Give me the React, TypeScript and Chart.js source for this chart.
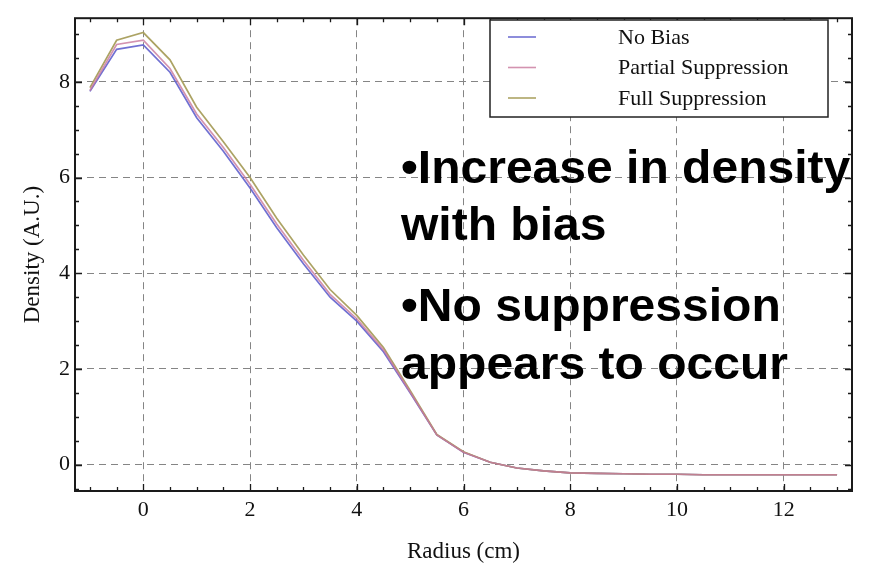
import React, { useEffect, useRef } from "react";
import { Chart, registerables } from "chart.js";

Chart.register(...registerables);

const radius = [-1, -0.5, 0, 0.5, 1, 1.5, 2, 2.5, 3, 3.5, 4, 4.5, 5, 5.5, 6, 6.5, 7, 7.5, 8, 8.5, 9, 9.5, 10, 10.5, 11, 11.5, 12, 12.5, 13];
const noBias = [7.8, 8.68, 8.77, 8.2, 7.25, 6.55, 5.78, 4.95, 4.2, 3.5, 3.0, 2.36, 1.5, 0.62, 0.26, 0.05, -0.07, -0.13, -0.17, -0.18, -0.19, -0.2, -0.2, -0.21, -0.21, -0.21, -0.21, -0.21, -0.21];
const partial = [7.82, 8.78, 8.87, 8.28, 7.33, 6.63, 5.86, 5.03, 4.27, 3.56, 3.05, 2.4, 1.52, 0.62, 0.26, 0.05, -0.07, -0.13, -0.17, -0.18, -0.19, -0.2, -0.2, -0.21, -0.21, -0.21, -0.21, -0.21, -0.21];
const full = [7.88, 8.87, 9.03, 8.46, 7.47, 6.75, 6.0, 5.15, 4.38, 3.66, 3.12, 2.45, 1.55, 0.63, 0.27, 0.05, -0.07, -0.13, -0.17, -0.18, -0.19, -0.2, -0.2, -0.21, -0.21, -0.21, -0.21, -0.21, -0.21];
const seriesNames = ["No Bias", "Partial Suppression", "Full Suppression"];
const seriesColors = ["rgba(104,104,208,0.95)", "rgba(200,120,156,0.8)", "rgba(168,158,92,0.95)"];
const seriesOrder = [2, 0, 1];
const xTitle = "Radius (cm)";
const yTitle = "Density (A.U.)";
const notes = ["\u2022Increase in density", "with bias", "\u2022No suppression", "appears to occur"];

const SERIF = "'Liberation Serif', 'Times New Roman', serif";
const isMajor = (v: number) => Math.abs(v % 2) < 1e-6;

const framePlugin = {
  id: "frame",
  afterDatasetsDraw(chart: any) {
    const { ctx, chartArea: a, scales } = chart;
    const xs = scales.x;
    const ys = scales.y;
    ctx.save();
    ctx.strokeStyle = "#1a1a1a";
    ctx.lineWidth = 1.3;
    ctx.beginPath();
    for (const t of xs.ticks) {
      const px = Math.round(xs.getPixelForValue(t.value)) + 0.5;
      const len = isMajor(t.value) ? 7 : 4;
      ctx.moveTo(px, a.bottom);
      ctx.lineTo(px, a.bottom - len);
      ctx.moveTo(px, a.top);
      ctx.lineTo(px, a.top + len);
    }
    for (const t of ys.ticks) {
      const py = Math.round(ys.getPixelForValue(t.value)) + 0.5;
      const len = isMajor(t.value) ? 7 : 4;
      ctx.moveTo(a.left, py);
      ctx.lineTo(a.left + len, py);
      ctx.moveTo(a.right, py);
      ctx.lineTo(a.right - len, py);
    }
    ctx.stroke();
    ctx.lineWidth = 2;
    ctx.strokeRect(a.left, a.top, a.right - a.left, a.bottom - a.top);
    ctx.restore();
  },
  afterDraw(chart: any) {
    const { ctx } = chart;
    ctx.save();
    // legend
    const bx = 490, by = 20, bw = 338, bh = 97;
    ctx.fillStyle = "#ffffff";
    ctx.fillRect(bx, by, bw, bh);
    ctx.strokeStyle = "#222";
    ctx.lineWidth = 1.5;
    ctx.strokeRect(bx, by, bw, bh);
    ctx.font = `22px ${SERIF}`;
    ctx.textBaseline = "middle";
    ctx.textAlign = "left";
    chart.data.datasets.forEach((ds: any, i: number) => {
      const yy = 37 + i * 30.5;
      ctx.strokeStyle = ds.borderColor;
      ctx.lineWidth = 1.6;
      ctx.beginPath();
      ctx.moveTo(508, yy);
      ctx.lineTo(536, yy);
      ctx.stroke();
      ctx.fillStyle = "#111";
      ctx.fillText(ds.label, 618, yy + 1);
    });
    // annotations
    ctx.fillStyle = "#000";
    ctx.font = "bold 46px 'Liberation Sans', Arial, sans-serif";
    ctx.textBaseline = "alphabetic";
    const baselines = [183, 240, 321, 379];
    notes.forEach((t, i) => {
      ctx.save();
      ctx.translate(401, baselines[i]);
      ctx.scale(1.044, 1);
      ctx.fillText(t, 0, 0);
      ctx.restore();
    });
    ctx.restore();
  },
};

export default function App() {
  const ref = useRef<HTMLCanvasElement | null>(null);
  useEffect(() => {
    if (!ref.current) return;
    const series = [noBias, partial, full];
    const chart = new Chart(ref.current, {
      type: "line",
      data: {
        datasets: series.map((vals, i) => ({
          label: seriesNames[i],
          data: radius.map((r, j) => ({ x: r, y: vals[j] })),
          borderColor: seriesColors[i],
          backgroundColor: seriesColors[i],
          borderWidth: 1.7,
          pointRadius: 0,
          tension: 0,
          fill: false,
          order: seriesOrder[i],
        })),
      },
      options: {
        animation: false,
        responsive: true,
        maintainAspectRatio: false,
        layout: { padding: { top: 9, right: 17, left: 0, bottom: 0 } },
        plugins: { legend: { display: false }, tooltip: { enabled: false } },
        scales: {
          x: {
            type: "linear",
            min: -1.28,
            max: 13.28,
            afterFit: (s: any) => { s.height = 72; },
            ticks: {
              stepSize: 0.5,
              includeBounds: false,
              autoSkip: false,
              maxRotation: 0,
              padding: 6,
              color: "#111",
              font: { family: SERIF, size: 22 },
              callback: (v: any) => (isMajor(Number(v)) ? String(v) : ""),
            },
            grid: {
              drawTicks: false,
              lineWidth: 1,
              color: (c: any) => (c.tick && isMajor(c.tick.value) ? "#858585" : "rgba(0,0,0,0)"),
            },
            border: { display: false, dash: [7, 5] },
            title: {
              display: true,
              text: xTitle,
              color: "#111",
              font: { family: SERIF, size: 23, lineHeight: 1 },
              padding: { top: 0, bottom: 0 },
            },
          },
          y: {
            type: "linear",
            min: -0.55,
            max: 9.33,
            afterFit: (s: any) => { s.width = 75; },
            ticks: {
              stepSize: 0.5,
              includeBounds: false,
              autoSkip: false,
              padding: 5,
              color: "#111",
              font: { family: SERIF, size: 22 },
              callback: (v: any) => (isMajor(Number(v)) ? String(v) : ""),
            },
            grid: {
              drawTicks: false,
              lineWidth: 1,
              color: (c: any) => (c.tick && isMajor(c.tick.value) ? "#858585" : "rgba(0,0,0,0)"),
            },
            border: { display: false, dash: [7, 5] },
            title: {
              display: true,
              text: yTitle,
              color: "#111",
              font: { family: SERIF, size: 23, lineHeight: 1 },
              padding: { top: 21, bottom: 0 },
            },
          },
        },
      },
      plugins: [framePlugin],
    });
    return () => chart.destroy();
  }, []);
  return (
    <div style={{ position: "fixed", left: 0, top: 0, width: 869, height: 563, background: "#fff" }}>
      <canvas ref={ref} />
    </div>
  );
}
